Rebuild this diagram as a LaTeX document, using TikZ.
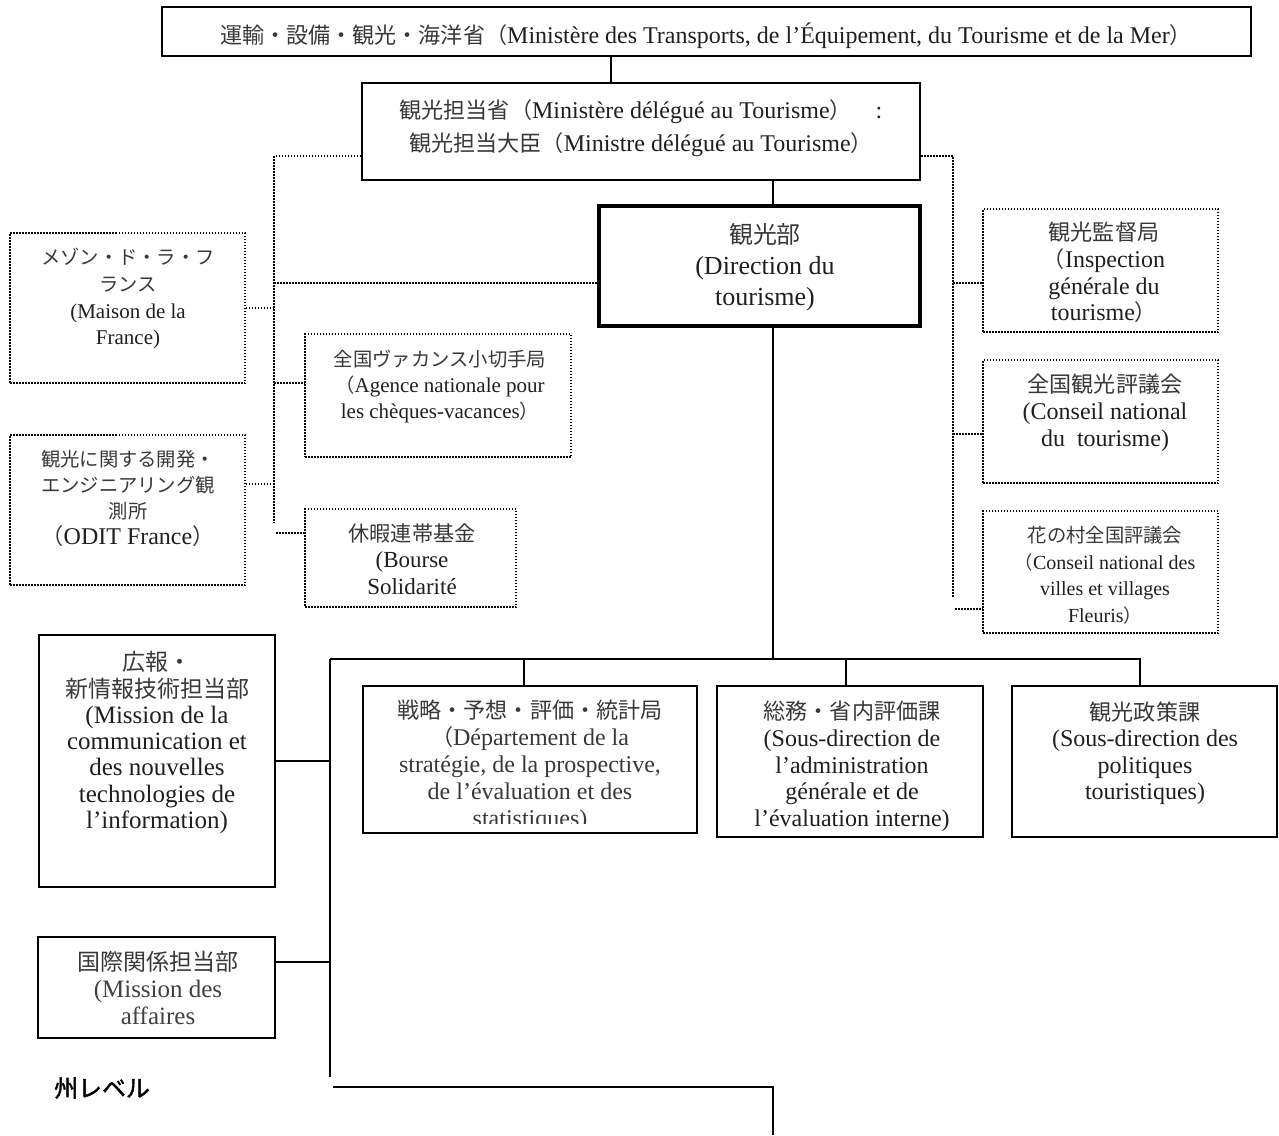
\documentclass[tikz,border=0pt]{standalone}
\usepackage{fontspec}
\setmainfont{Liberation Serif}
\newfontfamily\jp[Scale=0.92]{Noto Sans CJK JP}
\newfontfamily\jpb[Scale=0.92,FakeBold=1.5]{Noto Sans CJK JP}
\newcommand\J[1]{{\jp\color{black!78}#1}}
\newcommand\fs[2]{\fontsize{#1}{#2}\selectfont}
\tikzset{
  sbox/.style={draw, line width=1pt, inner sep=0pt},
  thbox/.style={draw, line width=2.2pt, inner sep=0pt},
  dbox/.style={draw, line width=0.75pt, dash pattern=on 0.75pt off 0.75pt, inner sep=0pt},
  conn/.style={line width=1pt},
  dconn/.style={line width=0.75pt, dash pattern=on 0.75pt off 0.75pt},
  txt/.style={inner sep=0pt, align=center, anchor=north, text=black!88},
}
\newcommand\bx[6]{\node[#6, minimum width={(#4-#2)*0.5pt}, minimum height={(#5-#3)*0.5pt}] (#1) at ({(#2+#4)/2},{(#3+#5)/2}) {};}
\begin{document}
\begin{tikzpicture}[x=0.5pt,y=-0.5pt]
\useasboundingbox (0,0) rectangle (1279,1135);
% ---- boxes ----
\bx{mtop}{162}{7}{1251}{56}{sbox}
\bx{mdel}{362}{83}{920}{180}{sbox}
\bx{dir}{599}{206}{920}{326}{thbox}
\bx{maison}{10}{233}{245}{383}{dbox}
\bx{agence}{305}{334}{571}{457}{dbox}
\bx{odit}{10}{435}{245}{585}{dbox}
\bx{bourse}{305}{509}{516}{607}{dbox}
\bx{insp}{983}{209}{1218}{332}{dbox}
\bx{cons}{983}{360}{1218}{483}{dbox}
\bx{fleur}{983}{511}{1218}{633}{dbox}
\bx{comm}{39}{635}{275}{887}{sbox}
\bx{intl}{38}{937}{275}{1038}{sbox}
\bx{strat}{363}{686}{697}{833}{sbox}
\bx{admin}{717}{686}{983}{837}{sbox}
\bx{polit}{1012}{686}{1277}{837}{sbox}
% ---- texts ----
\node[txt, font=\fs{12}{14}] (mtopT) at (706,22)
  {\J{運輸・設備・観光・海洋省（}Ministère des Transports, de l’Équipement, du Tourisme et de la Mer\J{）}};
\node[txt, font=\fs{12}{16.5}] (mdelT) at (641,99)
  {\J{観光担当省（}Ministère délégué au Tourisme\J{）}\hspace{1em}:\\
   \J{観光担当大臣（}Ministre délégué au Tourisme\J{）}};
\node[txt, font=\fs{13}{15.5}] (dirT) at (765,223)
  {\J{観光部}\\(Direction du\\tourisme)};
\node[txt, font=\fs{10.5}{13.3}] (maisonT) at (128,248)
  {\J{メゾン・ド・ラ・フ}\\\J{ランス}\\(Maison de la\\France)};
\node[txt, font=\fs{10.5}{13}] (agenceT) at (440,350)
  {\J{全国ヴァカンス小切手局}\\\J{（}Agence nationale pour\\les chèques-vacances\J{）}};
\node[txt, font=\fs{10.5}{13}] (oditT) at (128,450)
  {\J{観光に関する開発・}\\\J{エンジニアリング観}\\\J{測所}\\{\fs{12}{13}\J{（}ODIT France\J{）}}};
\node[txt, font=\fs{11.5}{13.25}] (bourseT) at (412,523)
  {\J{休暇連帯基金}\\(Bourse\\Solidarité};
\node[txt, font=\fs{12}{13.3}] (inspT) at (1104,222)
  {\J{観光監督局}\\\J{（}Inspection\\générale du\\tourisme\J{）}};
\node[txt, font=\fs{12}{13.3}] (consT) at (1105,374)
  {\J{全国観光評議会}\\(Conseil national\\du\ \ tourisme)};
\node[txt, font=\fs{10}{13.3}] (fleurT) at (1105,526)
  {{\fs{10.5}{13.3}\J{花の村全国評議会}}\\\J{（}Conseil national des\\villes et villages\\Fleuris\J{）}};
\node[txt, font=\fs{12.5}{13.15}] (commT) at (157,651)
  {\J{広報・}\\\J{新情報技術担当部}\\(Mission de la\\communication et\\des nouvelles\\technologies de\\l’information)};
\node[txt, font=\fs{12.5}{13.5}, text=black!75] (intlT) at (158,951)
  {\J{国際関係担当部}\\(Mission des\\affaires};
\begin{scope}
  \clip (364,687) rectangle (696,823);
  \node[txt, font=\fs{12}{13.5}, text=black!78] (stratT) at (530,699)
    {\J{戦略・予想・評価・統計局}\\\J{（}Département de la\\stratégie, de la prospective,\\de l’évaluation et des\\statistiques)};
\end{scope}
\node[txt, font=\fs{12}{13.3}] (adminT) at (852,701)
  {\J{総務・省内評価課}\\(Sous-direction de\\l’administration\\générale et de\\l’évaluation interne)};
\node[txt, font=\fs{12}{13.3}] (politT) at (1145,701)
  {\J{観光政策課}\\(Sous-direction des\\politiques\\touristiques)};
\node[inner sep=0pt, font={\fs{13}{15}\jpb}] (stateT) at (102,1088) {州レベル};
% ---- solid connectors ----
\coordinate (cA) at (611,0);
\draw[conn] (mtop.south -| cA) -- (mdel.north -| cA);
\coordinate (cB) at (773,0);
\draw[conn] (mdel.south -| cB) -- (dir.north -| cB);
\coordinate (busL) at (330,659);
\coordinate (busM) at (773,659);
\coordinate (busR) at (1140,659);
\draw[conn] (dir.south -| cB) -- (busM);
\draw[conn] (busL) -- (busR) -- (polit.north -| busR);
\coordinate (d1) at (524,659);
\draw[conn] (d1) -- (strat.north -| d1);
\coordinate (d2) at (846,659);
\draw[conn] (d2) -- (admin.north -| d2);
\coordinate (busB) at (330,1077);
\draw[conn] (busL) -- (busB);
\coordinate (jc1) at (330,761);
\draw[conn] (comm.east |- jc1) -- (jc1);
\coordinate (jc2) at (330,962);
\draw[conn] (intl.east |- jc2) -- (jc2);
\coordinate (lowA) at (333,1087);
\coordinate (lowB) at (773,1087);
\coordinate (lowC) at (773,1135);
\draw[conn] (lowA) -- (lowB) -- (lowC);
% ---- dotted connectors ----
\coordinate (dl) at (274,156);
\coordinate (dlE) at (274,523);
\draw[dconn] (mdel.west |- dl) -- (dl) -- (dlE);
\coordinate (jd) at (274,283);
\draw[dconn] (jd) -- (dir.west |- jd);
\coordinate (jm) at (274,308);
\draw[dconn] (maison.east |- jm) -- (jm);
\coordinate (ja) at (274,383);
\draw[dconn] (ja) -- (agence.west |- ja);
\coordinate (jo) at (274,484);
\draw[dconn] (odit.east |- jo) -- (jo);
\coordinate (jb) at (276,533);
\draw[dconn] (jb) -- (bourse.west |- jb);
\coordinate (dr) at (953,156);
\coordinate (drE) at (953,598);
\draw[dconn] (mdel.east |- dr) -- (dr) -- (drE);
\coordinate (ji) at (953,283);
\draw[dconn] (ji) -- (insp.west |- ji);
\coordinate (jcn) at (953,434);
\draw[dconn] (jcn) -- (cons.west |- jcn);
\coordinate (jf) at (955,609);
\draw[dconn] (jf) -- (fleur.west |- jf);
\end{tikzpicture}
\end{document}
